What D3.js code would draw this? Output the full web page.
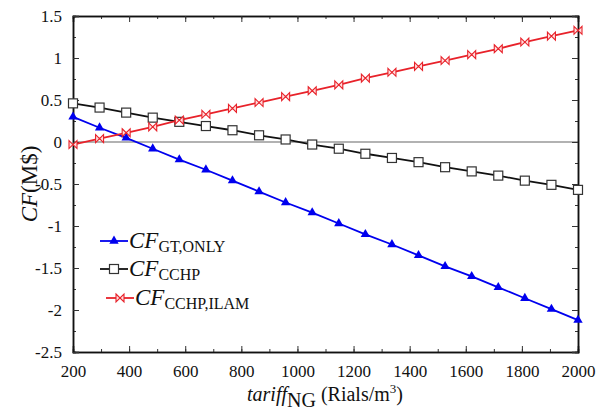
<!DOCTYPE html>
<html><head><meta charset="utf-8">
<script src="https://cdn.jsdelivr.net/npm/d3@7"></script>
<style>body{margin:0;background:#fff}</style>
</head><body><svg id="c" width="597" height="412" font-family="Liberation Serif"></svg>
<script>
const tariff = [200, 294.7, 389.5, 484.2, 578.9, 673.7, 768.4, 863.2, 957.9, 1052.6, 1147.4, 1242.1, 1336.8, 1431.6, 1526.3, 1621.1, 1715.8, 1810.5, 1905.3, 2000];
const cfGtOnly = [0.30, 0.17, 0.05, -0.08, -0.21, -0.33, -0.46, -0.59, -0.72, -0.84, -0.97, -1.10, -1.22, -1.35, -1.48, -1.60, -1.73, -1.86, -1.99, -2.12];
const cfCchp = [0.46, 0.41, 0.35, 0.29, 0.24, 0.19, 0.14, 0.08, 0.03, -0.03, -0.08, -0.14, -0.19, -0.24, -0.30, -0.35, -0.40, -0.46, -0.51, -0.57];
const cfIlam = [-0.03, 0.04, 0.11, 0.18, 0.26, 0.33, 0.40, 0.47, 0.54, 0.61, 0.68, 0.76, 0.83, 0.90, 0.97, 1.04, 1.11, 1.19, 1.26, 1.33];
const xTicks = [200,400,600,800,1000,1200,1400,1600,1800,2000];
const yTicks = [1.5,1,0.5,0,-0.5,-1,-1.5,-2,-2.5];

const FONT = "Liberation Serif";
const svg = d3.select("#c");
const L=73,R=578,T=16,B=352;
const x = d3.scaleLinear().domain([200,2000]).range([L,R]);
const y = d3.scaleLinear().domain([-2.5,1.5]).range([B,T]);

svg.append("line").attr("x1",L).attr("x2",R).attr("y1",y(0)).attr("y2",y(0)).attr("stroke","#999").attr("stroke-width",1.5);

const tickFmt = d => String(d);
function addAxis(gen, tx, ty){ return svg.append("g").attr("transform",`translate(${tx},${ty})`).call(gen); }
const minorX = d3.range(200,2001,100), minorY = d3.range(-2.5,1.51,0.25);
addAxis(d3.axisBottom(x).tickValues(minorX).tickSize(-3).tickFormat(""),0,B);
addAxis(d3.axisTop(x).tickValues(minorX).tickSize(-3).tickFormat(""),0,T);
addAxis(d3.axisLeft(y).tickValues(minorY).tickSize(-3).tickFormat(""),L,0);
addAxis(d3.axisRight(y).tickValues(minorY).tickSize(-3).tickFormat(""),R,0);
addAxis(d3.axisBottom(x).tickValues(xTicks).tickSize(-6).tickPadding(13).tickFormat(tickFmt),0,B);
addAxis(d3.axisTop(x).tickValues(xTicks).tickSize(-6).tickFormat(""),0,T);
addAxis(d3.axisLeft(y).tickValues(yTicks).tickSize(-6).tickPadding(11).tickFormat(tickFmt),L,0);
addAxis(d3.axisRight(y).tickValues(yTicks).tickSize(-6).tickFormat(""),R,0);
svg.selectAll("g").attr("font-family",FONT);
svg.selectAll(".domain").attr("stroke","#111").attr("stroke-width",1.5);
svg.selectAll(".tick line").attr("stroke","#333");
svg.selectAll(".tick text").attr("font-size",17).attr("fill","#111").attr("font-family",FONT);

const series = [
  {vals: cfGtOnly, color:"#0000ee", mk:"tri"},
  {vals: cfCchp, color:"#111", mk:"sq"},
  {vals: cfIlam, color:"#e8222a", mk:"bow"}
];
function marker(g, type, color, cx, cy){
  if(type==="tri") g.append("path").attr("d",d3.symbol(d3.symbolTriangle,38)()).attr("transform",`translate(${cx},${cy})`).attr("fill",color);
  else if(type==="sq") g.append("rect").attr("x",cx-4.5).attr("y",cy-4.5).attr("width",9).attr("height",9).attr("fill","#fff").attr("stroke","#333").attr("stroke-width",1.2);
  else g.append("path").attr("d","M-4,-4L4,4L4,-4L-4,4Z").attr("transform",`translate(${cx},${cy})`).attr("fill","#fdd").attr("stroke",color).attr("stroke-width",1.1);
}
series.forEach(s=>{
  const line = d3.line().x((d,i)=>x(tariff[i])).y(d=>y(d));
  svg.append("path").attr("d",line(s.vals)).attr("fill","none").attr("stroke",s.color).attr("stroke-width",1.8);
  const g = svg.append("g");
  s.vals.forEach((v,i)=>marker(g,s.mk,s.color,x(tariff[i]),y(v)));
});

const legend = [
  {mk:"tri", color:"#0000ee", sub:"GT,ONLY", x0:100, y0:241},
  {mk:"sq", color:"#111", sub:"CCHP", x0:100, y0:269},
  {mk:"bow", color:"#e8222a", sub:"CCHP,ILAM", x0:106, y0:298}
];
legend.forEach(l=>{
  svg.append("line").attr("x1",l.x0).attr("x2",l.x0+28).attr("y1",l.y0).attr("y2",l.y0).attr("stroke",l.color).attr("stroke-width",1.8);
  marker(svg,l.mk,l.color,l.x0+14,l.y0);
  const t = svg.append("text").attr("x",l.x0+29).attr("y",l.y0+7).attr("font-size",23).attr("font-family",FONT).attr("fill","#111");
  t.append("tspan").attr("font-style","italic").text("CF");
  t.append("tspan").attr("font-size",16).attr("dy",4).text(l.sub);
});

const yl = svg.append("text").attr("transform",`translate(37,${(T+B)/2}) rotate(-90)`).attr("text-anchor","middle").attr("font-size",23).attr("font-family",FONT).attr("fill","#111");
yl.append("tspan").attr("font-style","italic").text("CF");
yl.append("tspan").text("(M$)");

const xl = svg.append("text").attr("x",325).attr("y",401).attr("text-anchor","middle").attr("font-size",20).attr("font-family",FONT).attr("fill","#111");
xl.append("tspan").attr("font-style","italic").text("tariff");
xl.append("tspan").attr("dy",6).text("NG");
xl.append("tspan").attr("dy",-6).text(" (Rials/m");
xl.append("tspan").attr("font-size",13).attr("dy",-8).text("3");
xl.append("tspan").attr("dy",8).text(")");
</script></body></html>
